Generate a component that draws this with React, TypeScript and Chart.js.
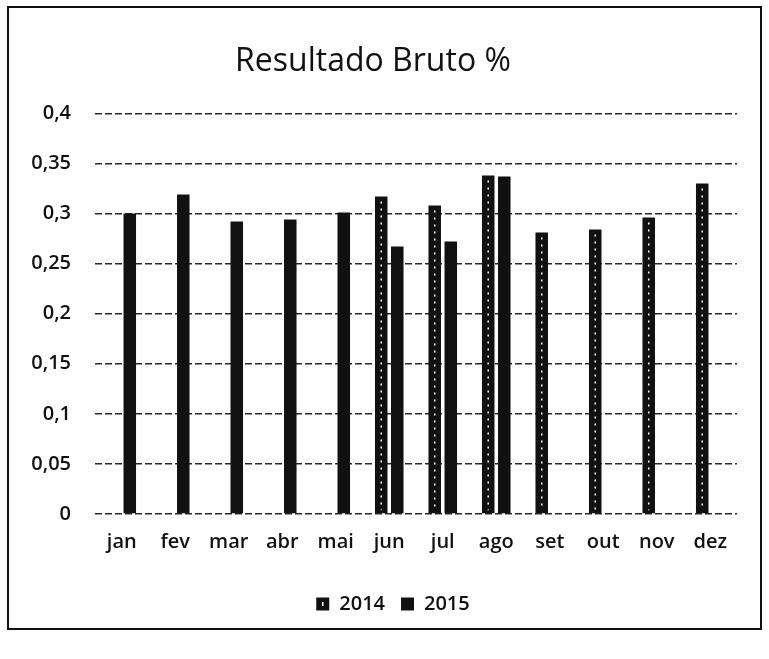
import React, { useEffect, useRef } from "react";
import { Chart, registerables } from "chart.js";

Chart.register(...registerables);

const months = ["jan", "fev", "mar", "abr", "mai", "jun", "jul", "ago", "set", "out", "nov", "dez"];
const values2014: (number | null)[] = [null, null, null, null, null, 0.317, 0.308, 0.338, 0.281, 0.284, 0.296, 0.33];
const values2015: (number | null)[] = [0.3, 0.319, 0.292, 0.294, 0.301, 0.267, 0.272, 0.337, null, null, null, null];
const yTickLabels = ["0", "0,05", "0,1", "0,15", "0,2", "0,25", "0,3", "0,35", "0,4"];
const seriesNames = ["2014", "2015"];
const chartTitle = "Resultado Bruto %";

const FONT = "'Open Sans', 'Noto Sans', sans-serif";
const LEGEND_SHIFT = 20;

const stripePlugin = {
  id: "stripe2014",
  afterLayout(chart: any) {
    const lg = chart.legend;
    if (!lg) return;
    lg.left += LEGEND_SHIFT;
    lg.right += LEGEND_SHIFT;
    if (lg.legendHitBoxes) lg.legendHitBoxes.forEach((h: any) => (h.left += LEGEND_SHIFT));
  },
  afterDatasetsDraw(chart: any) {
    const meta = chart.getDatasetMeta(0);
    const ctx = chart.ctx;
    ctx.save();
    ctx.strokeStyle = "#ffffff";
    ctx.lineWidth = 1.5;
    ctx.setLineDash([2, 5]);
    meta.data.forEach((bar: any, i: number) => {
      if (values2014[i] == null) return;
      const { x, y, base } = bar.getProps(["x", "y", "base"], true);
      ctx.beginPath();
      ctx.moveTo(x, y + 5);
      ctx.lineTo(x, base - 3);
      ctx.stroke();
    });
    ctx.restore();
  },
  afterDraw(chart: any) {
    const legend = chart.legend;
    const ctx = chart.ctx;
    if (legend && legend.legendHitBoxes && legend.legendHitBoxes[0]) {
      const hb = legend.legendHitBoxes[0];
      const bw = 13;
      const cx = hb.left + bw / 2;
      const cy = hb.top + hb.height / 2;
      ctx.save();
      ctx.fillStyle = "#ffffff";
      ctx.fillRect(cx - 0.75, cy - 2, 1.5, 4);
      ctx.restore();
    }
  },
};

export default function App() {
  const ref = useRef<HTMLCanvasElement | null>(null);

  useEffect(() => {
    if (!ref.current) return;
    const chart = new Chart(ref.current, {
      type: "bar",
      data: {
        labels: months,
        datasets: [
          {
            label: seriesNames[0],
            data: values2014,
            backgroundColor: "#111111",
            borderColor: "#111111",
            categoryPercentage: 0.6,
            barPercentage: 0.78,
          },
          {
            label: seriesNames[1],
            data: values2015,
            backgroundColor: "#111111",
            borderColor: "#111111",
            categoryPercentage: 0.6,
            barPercentage: 0.78,
          },
        ],
      },
      options: {
        responsive: false,
        animation: false,
        devicePixelRatio: 1,
        layout: { padding: { left: 0, right: 23, top: 0, bottom: 4 } },
        plugins: {
          title: {
            display: true,
            text: chartTitle,
            color: "#111",
            font: { family: FONT, size: 32, weight: "normal" },
            padding: { top: 35, bottom: 32 },
          },
          legend: {
            display: true,
            position: "bottom",
            labels: {
              color: "#111",
              font: { family: FONT, size: 20, weight: "600" },
              boxWidth: 13,
              boxHeight: 13,
              padding: 16,
            },
          },
          tooltip: { enabled: false },
        },
        scales: {
          x: {
            grid: { display: false, drawTicks: false },
            border: { display: false },
            ticks: {
              color: "#111",
              font: { family: FONT, size: 20, weight: "600" },
              padding: 16,
              maxRotation: 0,
            },
            afterFit: (scale: any) => {
              scale.height = 64;
            },
          },
          y: {
            min: 0,
            max: 0.4,
            grid: {
              color: "#2a2a2a",
              lineWidth: 1.5,
              drawTicks: false,
            },
            border: { display: false, dash: [7, 3] },
            ticks: {
              stepSize: 0.05,
              color: "#111",
              font: { family: FONT, size: 20, weight: "600" },
              padding: 24,
              callback: (_v: any, i: number) => yTickLabels[i],
            },
            afterFit: (scale: any) => {
              scale.width = 86;
            },
          },
        },
      },
      plugins: [stripePlugin],
    } as any);
    return () => chart.destroy();
  }, []);

  return (
    <div
      style={{
        position: "absolute",
        left: 7,
        top: 6,
        width: 755,
        height: 624,
        border: "2px solid #111",
        boxSizing: "border-box",
        background: "#fff",
      }}
    >
      <canvas ref={ref} width={751} height={620} style={{ display: "block", width: 751, height: 620 }} />
    </div>
  );
}
